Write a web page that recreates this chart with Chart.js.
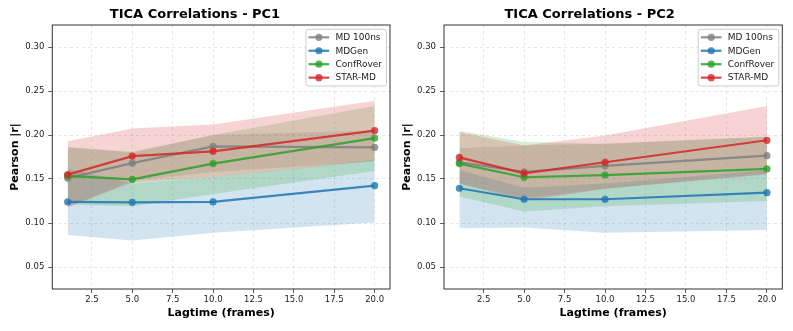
<!DOCTYPE html>
<html><head><meta charset="utf-8">
<script src="https://cdn.jsdelivr.net/npm/chart.js@4/dist/chart.umd.min.js"></script>
<style>
html,body{margin:0;padding:0;background:#fff;}
#wrap{position:relative;width:793px;height:331px;overflow:hidden;}
.box{position:absolute;top:0;height:331px;}
#b1{left:0;width:397px;}
#b2{left:397px;width:396px;}
</style></head><body>
<div id="wrap"><div class="box" id="b1"><canvas id="c1" width="397" height="331"></canvas></div><div class="box" id="b2"><canvas id="c2" width="396" height="331"></canvas></div></div>
<script>
// ---- data ----
const lagtimes = [1, 5, 10, 20];
const seriesNames = ['MD 100ns', 'MDGen', 'ConfRover', 'STAR-MD'];
const xTicks = [2.5, 5, 7.5, 10, 12.5, 15, 17.5, 20];
const yTicks = [0.05, 0.10, 0.15, 0.20, 0.25, 0.30];

// PC1
const pc1MdMean   = [0.151, 0.168, 0.187, 0.186];
const pc1MdLo     = [0.118, 0.148, 0.158, 0.170];
const pc1MdHi     = [0.186, 0.181, 0.200, 0.205];
const pc1GenMean  = [0.124, 0.1235, 0.124, 0.1425];
const pc1GenLo    = [0.0865, 0.080, 0.089, 0.1005];
const pc1GenHi    = [0.162, 0.145, 0.152, 0.172];
const pc1ConfMean = [0.1535, 0.1495, 0.1675, 0.1965];
const pc1ConfLo   = [0.121, 0.119, 0.133, 0.159];
const pc1ConfHi   = [0.186, 0.180, 0.200, 0.233];
const pc1StarMean = [0.155, 0.176, 0.1815, 0.205];
const pc1StarLo   = [0.118, 0.146, 0.152, 0.171];
const pc1StarHi   = [0.193, 0.2075, 0.212, 0.239];

// PC2
const pc2MdMean   = [0.169, 0.158, 0.165, 0.1765];
const pc2MdLo     = [0.145, 0.128, 0.139, 0.156];
const pc2MdHi     = [0.185, 0.188, 0.190, 0.198];
const pc2GenMean  = [0.1395, 0.127, 0.127, 0.1345];
const pc2GenLo    = [0.094, 0.095, 0.089, 0.092];
const pc2GenHi    = [0.160, 0.140, 0.145, 0.160];
const pc2ConfMean = [0.1675, 0.152, 0.1545, 0.1615];
const pc2ConfLo   = [0.130, 0.113, 0.119, 0.125];
const pc2ConfHi   = [0.2045, 0.192, 0.190, 0.198];
const pc2StarMean = [0.1745, 0.1565, 0.169, 0.194];
const pc2StarLo   = [0.145, 0.125, 0.139, 0.155];
const pc2StarHi   = [0.203, 0.188, 0.1995, 0.233];

// ---- styles ----
const colors = [[127,127,127],[31,119,180],[44,160,44],[214,39,40]];
const rgba = (c,a) => `rgba(${c[0]},${c[1]},${c[2]},${a})`;
const FONT = '"DejaVu Sans", sans-serif';

function pts(arr){ return lagtimes.map((x,i)=>({x:x, y:arr[i]})); }

function buildDatasets(means, los, his){
  const ds = [];
  for (let k=0;k<4;k++){
    ds.push({label:'_lo'+k, data:pts(los[k]), borderWidth:0, pointRadius:0, fill:false, order:20+(4-k)});
    ds.push({label:'_hi'+k, data:pts(his[k]), borderWidth:0, pointRadius:0,
      fill:{target:2*k}, backgroundColor:rgba(colors[k],0.2), order:10+(4-k)});
  }
  for (let k=0;k<4;k++){
    ds.push({label:seriesNames[k], data:pts(means[k]), borderColor:rgba(colors[k],0.85),
      backgroundColor:rgba(colors[k],0.85), pointBackgroundColor:rgba(colors[k],0.8),
      pointBorderColor:rgba(colors[k],0.8), borderWidth:2.2, pointRadius:3.6, pointBorderWidth:0,
      fill:false, order:(4-k)});
  }
  return ds;
}

const spines = {
  id:'spines',
  afterDatasetsDraw(chart){
    const {ctx, chartArea:a} = chart;
    ctx.save(); ctx.strokeStyle='#333'; ctx.lineWidth=1;
    ctx.strokeRect(a.left, a.top, a.right-a.left, a.bottom-a.top);
    ctx.restore();
  }
};

const boxLegend = {
  id:'boxLegend',
  afterDraw(chart){
    const {ctx, chartArea:a} = chart;
    ctx.save();
    ctx.font = '9px ' + FONT;
    const maxW = Math.max(...seriesNames.map(n=>ctx.measureText(n).width));
    const w = 29.5 + maxW + 4.5, h = 56.7;
    const right = a.right - 3.5, left = right - w, top = a.top + 4.3;
    ctx.beginPath();
    ctx.roundRect(left, top, w, h, 2.5);
    ctx.fillStyle = 'rgba(255,255,255,0.8)'; ctx.fill();
    ctx.strokeStyle = '#cccccc'; ctx.lineWidth = 1; ctx.stroke();
    for (let k=0;k<4;k++){
      const y = top + 8 + k*13.45;
      ctx.strokeStyle = rgba(colors[k],0.85); ctx.lineWidth = 2.2;
      ctx.beginPath(); ctx.moveTo(left+2.6, y); ctx.lineTo(left+23.3, y); ctx.stroke();
      ctx.fillStyle = rgba(colors[k],0.8);
      ctx.beginPath(); ctx.arc(left+13, y, 3.6, 0, Math.PI*2); ctx.fill();
      ctx.fillStyle = '#222'; ctx.textBaseline = 'middle'; ctx.textAlign = 'left';
      ctx.fillText(seriesNames[k], left+29.5, y+0.5);
    }
    ctx.restore();
  }
};

function makeChart(id, title, means, los, his, yAxisWidth, yTitlePad, rightPad){
  return new Chart(document.getElementById(id), {
    type:'line',
    data:{ datasets: buildDatasets(means, los, his) },
    options:{
      responsive:false, animation:false, events:[],
      layout:{ padding:{ left:0, right:rightPad, top:0, bottom:0 } },
      plugins:{
        legend:{display:false}, tooltip:{enabled:false},
        filler:{drawTime:'beforeDatasetsDraw'},
        title:{display:true, text:title, color:'#000',
          font:{family:FONT, size:13, weight:'bold'}, padding:{top:7, bottom:2.4}}
      },
      scales:{
        x:{ type:'linear', min:0.05, max:20.95,
          afterBuildTicks: s => { s.ticks = xTicks.map(v=>({value:v})); },
          afterFit: s => { s.height = 42; },
          ticks:{ callback: v => Number(v).toFixed(1), font:{family:FONT, size:8.5}, color:'#222',
            padding:2, maxRotation:0, autoSkip:false },
          grid:{ color:'rgba(0,0,0,0.12)', lineWidth:0.8, tickColor:'#333', tickLength:4, tickWidth:0.8 },
          border:{ display:false, dash:[3,3] },
          title:{ display:true, text:'Lagtime (frames)', color:'#000',
            font:{family:FONT, size:11, weight:'bold'}, padding:{top:0, bottom:11} }
        },
        y:{ type:'linear', min:0.025, max:0.325,
          afterBuildTicks: s => { s.ticks = yTicks.map(v=>({value:v})); },
          afterFit: s => { s.width = yAxisWidth; },
          ticks:{ callback: v => Number(v).toFixed(2), font:{family:FONT, size:8.5}, color:'#222',
            padding:4, autoSkip:false },
          grid:{ color:'rgba(0,0,0,0.12)', lineWidth:0.8, tickColor:'#333', tickLength:4, tickWidth:0.8 },
          border:{ display:false, dash:[3,3] },
          title:{ display:true, text:'Pearson |r|', color:'#000',
            font:{family:FONT, size:11, weight:'bold'}, padding:{top:yTitlePad, bottom:0} }
        }
      }
    },
    plugins:[spines, boxLegend]
  });
}

makeChart('c1', 'TICA Correlations - PC1',
  [pc1MdMean, pc1GenMean, pc1ConfMean, pc1StarMean],
  [pc1MdLo, pc1GenLo, pc1ConfLo, pc1StarLo],
  [pc1MdHi, pc1GenHi, pc1ConfHi, pc1StarHi], 52.3, 8.4, 7);
makeChart('c2', 'TICA Correlations - PC2',
  [pc2MdMean, pc2GenMean, pc2ConfMean, pc2StarMean],
  [pc2MdLo, pc2GenLo, pc2ConfLo, pc2StarLo],
  [pc2MdHi, pc2GenHi, pc2ConfHi, pc2StarHi], 47, 3.1, 10.7);
</script>
</body></html>
